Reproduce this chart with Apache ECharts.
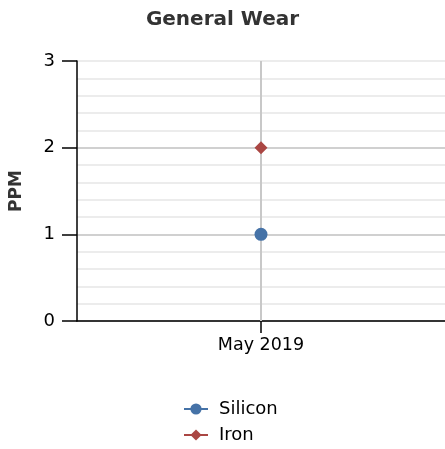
<!DOCTYPE html>
<html>
<head>
<meta charset="utf-8">
<script src="https://cdn.jsdelivr.net/npm/echarts@6/dist/echarts.min.js"></script>
<style>
  html, body { margin: 0; padding: 0; background: #fff; }
  #chart { width: 445px; height: 449px; }
</style>
</head>
<body>
<div id="chart"></div>
<script>
const categories = ['May 2019'];
const silicon = [1];
const iron = [2];
const yTicks = [0, 1, 2, 3];

const chart = echarts.init(document.getElementById('chart'));

const option = {
  animation: false,
  textStyle: { fontFamily: 'DejaVu Sans' },
  title: {
    text: 'General Wear',
    left: 'center',
    top: 5,
    textStyle: { fontSize: 20, fontWeight: 'bold', color: '#333', fontFamily: 'DejaVu Sans' }
  },
  legend: {
    orient: 'vertical',
    bottom: 0,
    left: 178,
    itemWidth: 24,
    itemHeight: 14,
    itemGap: 8,
    textStyle: { fontSize: 18, color: '#000', padding: [0, 0, 0, 6] },
    data: ['Silicon', 'Iron']
  },
  grid: { left: 77, right: 0, top: 61, bottom: 128 },
  xAxis: {
    type: 'category',
    data: categories,
    axisLine: { lineStyle: { color: '#000', width: 1.5 } },
    axisTick: { show: true, alignWithLabel: true, interval: 0, length: 12, lineStyle: { color: '#000', width: 1.5 } },
    axisLabel: { fontSize: 17.5, color: '#000', margin: 15 },
    splitLine: { show: false }
  },
  yAxis: {
    type: 'value',
    min: yTicks[0],
    max: yTicks[yTicks.length - 1],
    interval: 1,
    name: 'PPM',
    nameLocation: 'middle',
    nameGap: 52,
    nameTextStyle: { fontSize: 17, fontWeight: 'bold', color: '#333' },
    axisLine: { show: true, lineStyle: { color: '#000', width: 1.5 } },
    axisTick: { show: true, length: 15, lineStyle: { color: '#000', width: 1.5 } },
    axisLabel: { fontSize: 18, color: '#000', margin: 22 },
    splitLine: { show: true, lineStyle: { color: ['#c0c0c0', '#c0c0c0', '#c0c0c0', '#e6e6e6'], width: 1.5 } },
    minorTick: { show: false, splitNumber: 5 },
    minorSplitLine: { show: true, lineStyle: { color: '#e6e6e6', width: 1.5 } }
  },
  series: [
    {
      name: 'Silicon',
      type: 'line',
      data: silicon,
      symbol: 'circle',
      symbolSize: 13,
      itemStyle: { color: '#4572A7' },
      lineStyle: { color: '#4572A7', width: 3 },
      markLine: {
        silent: true,
        symbol: 'none',
        label: { show: false },
        lineStyle: { color: '#c8c8c8', type: 'solid', width: 2 },
        data: [{ xAxis: categories[0] }],
        z: 1
      },
      z: 3
    },
    {
      name: 'Iron',
      type: 'line',
      data: iron,
      symbol: 'diamond',
      symbolSize: 13,
      itemStyle: { color: '#AA4643' },
      lineStyle: { color: '#AA4643', width: 3 },
      z: 3
    }
  ]
};

chart.setOption(option);
</script>
</body>
</html>
